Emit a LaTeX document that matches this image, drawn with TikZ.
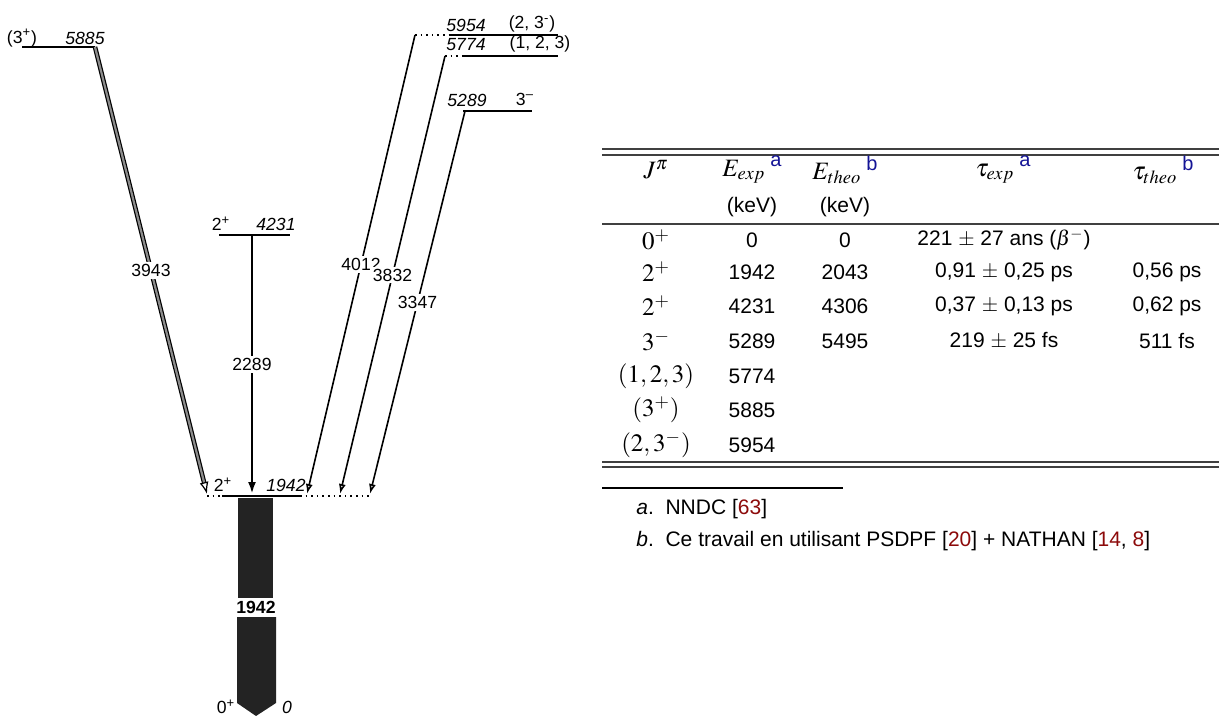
\documentclass[tikz,border=0pt]{standalone}
\usepackage{mathptmx}
\usepackage{fontspec}
\setmainfont{Liberation Sans}
\usetikzlibrary{arrows.meta, positioning}
\definecolor{supblue}{RGB}{20,20,150}
\definecolor{citered}{RGB}{140,10,10}
\definecolor{barfill}{RGB}{35,35,35}
\newcommand{\fnmark}[1]{\kern2.5pt\raisebox{0.7ex}{\textcolor{supblue}{\fontsize{10}{12}\selectfont #1}}}
\newcommand{\citeno}[1]{\textcolor{citered}{#1}}

\begin{document}
\begin{tikzpicture}[x=0.5pt, y=-0.5pt,
    lvl/.style={line width=0.8pt},
    dotlvl/.style={line width=0.8pt, dotted},
    trans/.style={line width=0.8pt, -{Latex[open, length=5pt, width=3.5pt]}},
    elab/.style={font=\fontsize{8.8}{10.5}\selectfont\itshape, inner sep=1pt},
    slab/.style={font=\fontsize{8.8}{10.5}\selectfont, inner sep=1pt},
    glab/.style={font=\fontsize{8.8}{10.5}\selectfont, fill=white, inner sep=1pt},
    cell/.style={font=\fontsize{10.5}{12.6}\selectfont, inner sep=1pt},
    mcell/.style={font=\fontsize{12.5}{15}\selectfont, inner sep=1pt},
    tabrule/.style={line width=0.8pt, black!75}]
    \useasboundingbox (0,0) rectangle (1219,716);

    % niveaux du schema
    \coordinate (l5885a) at (22,47);   \coordinate (l5885b) at (95,47);
    \coordinate (l5954d) at (415,35);  \coordinate (l5954a) at (450,35);  \coordinate (l5954b) at (558,35);
    \coordinate (l5774d) at (445,56);  \coordinate (l5774a) at (462,56);  \coordinate (l5774b) at (558,56);
    \coordinate (l5289a) at (463,111); \coordinate (l5289b) at (532,111);
    \coordinate (l4231a) at (219,235); \coordinate (l4231b) at (290,235);
    \coordinate (l1942d) at (207,496); \coordinate (l1942a) at (222,496);
    \coordinate (l1942b) at (300,496); \coordinate (l1942e) at (372,496);

    \draw[lvl] (l5885a) -- (l5885b);
    \draw[dotlvl] (l5954d) -- (l5954a);
    \draw[lvl] (l5954a) -- (l5954b);
    \draw[dotlvl] (l5774d) -- (l5774a);
    \draw[lvl] (l5774a) -- (l5774b);
    \draw[lvl] (l5289a) -- (l5289b);
    \draw[lvl] (l4231a) -- (l4231b);
    \draw[dotlvl] (l1942d) -- (l1942a);
    \draw[lvl] (l1942a) -- (l1942b);
    \draw[dotlvl] (l1942b) -- (l1942e);

    % etiquettes des niveaux
    \node[slab] (s5885) at (22,38) {(3\textsuperscript{+})};
    \node[elab] (e5885) at (85,38) {5885};
    \node[elab] (e5954) at (466,25) {5954};
    \node[slab] (s5954) at (532,24) {(2, 3\textsuperscript{-})};
    \node[elab] (e5774) at (466,45) {5774};
    \node[slab] (s5774) at (540,44) {(1, 2, 3)};
    \node[elab] (e5289) at (467,100) {5289};
    \node[slab] (s5289) at (525,99) {3\textsuperscript{--}};
    \node[slab] (s4231) at (221,224) {2\textsuperscript{+}};
    \node[elab] (e4231) at (276,224) {4231};
    \node[slab] (s1942) at (223,485) {2\textsuperscript{+}};
    \node[elab] (e1942) at (286,485) {1942};
    \node[slab] (s0) at (226,707) {0\textsuperscript{+}};
    \node[elab] (e0) at (287,707) {0};

    % transitions gamma
    \coordinate (t3943) at (207,494);
    \coordinate (t2289a) at (252,235); \coordinate (t2289) at (252,494);
    \coordinate (t4012) at (307,494);
    \coordinate (t3832) at (340,494);
    \coordinate (t3347a) at (465,111); \coordinate (t3347) at (370,494);
    \draw[line width=0.6pt, double=black!45, double distance=1.1pt,
          -{Latex[open, length=6pt, width=4.5pt]}] (l5885b) -- node[glab] {3943} (t3943);
    \draw[line width=1.2pt, -{Latex[length=6pt, width=4pt]}] (t2289a) -- node[glab] {2289} (t2289);
    \draw[trans] (l5954d) -- node[glab] {4012} (t4012);
    \draw[trans] (l5774d) -- node[glab] {3832} (t3832);
    \draw[trans] (t3347a) -- node[glab] {3347} (t3347);

    % transition 1942 vers le fondamental
    \fill[barfill] (238,498) rectangle (273,598);
    \fill[barfill] (237,617) -- (276,617) -- (276,703) -- (256,716) -- (237,703) -- cycle;
    \node[font=\fontsize{8.8}{10.5}\selectfont\bfseries, inner sep=1pt] (g1942) at (256,607) {1942};

    % tableau
    \draw[tabrule] (602,149) -- (1219,149);
    \draw[tabrule] (602,155) -- (1219,155);
    \node[mcell] (hj) at (656,170) {$J^\pi$};
    \node[mcell] (hee) at (752,170) {$E_{exp}$\fnmark{a}};
    \node[mcell] (het) at (845,170) {$E_{theo}$\fnmark{b}};
    \node[mcell] (hte) at (1003,170) {$\tau_{exp}$\fnmark{a}};
    \node[mcell] (htt) at (1163,170) {$\tau_{theo}$\fnmark{b}};
    \node[cell] (kee) at (752,207) {(keV)};
    \node[cell] (ket) at (845,207) {(keV)};
    \draw[tabrule] (602,224) -- (1219,224);

    \foreach \y/\jp/\ee/\et/\te/\tt in {
        240/{$0^+$}/0/0/{221 $\pm$ 27 ans ($\beta^-$)}/{},
        272/{$2^+$}/1942/2043/{0,91 $\pm$ 0,25 ps}/{0,56 ps},
        306/{$2^+$}/4231/4306/{0,37 $\pm$ 0,13 ps}/{0,62 ps},
        341/{$3^-$}/5289/5495/{219 $\pm$ 25 fs}/{511 fs},
        376/{$(1,2,3)$}/5774/{}/{}/{},
        410/{$(3^+)$}/5885/{}/{}/{},
        445/{$(2,3^-)$}/5954/{}/{}/{}}{
        \node[mcell] (j\y) at (656,\y) {\jp};
        \node[cell] (ee\y) at (752,\y) {\ee};
        \node[cell] (et\y) at (845,\y) {\et};
        \node[cell] (te\y) at (1004,\y) {\te};
        \node[cell] (tt\y) at (1167,\y) {\tt};
    }
    \draw[tabrule] (602,462) -- (1219,462);
    \draw[tabrule] (602,467) -- (1219,467);

    % notes
    \draw[line width=0.6pt] (602,488) -- (843,488);
    \node[cell, anchor=west] (fa) at (634,509) {\textit{a}.\ \ NNDC [\citeno{63}]};
    \node[cell, anchor=west] (fb) at (634,541) {\textit{b}.\ \ Ce travail en utilisant PSDPF [\citeno{20}] + NATHAN [\citeno{14}, \citeno{8}]};
\end{tikzpicture}
\end{document}
